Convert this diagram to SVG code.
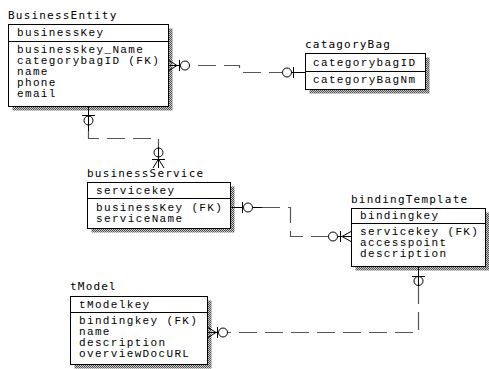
<svg xmlns="http://www.w3.org/2000/svg" width="489" height="369" viewBox="0 0 489 369">
<defs>
<pattern id="dither" width="2" height="2" patternUnits="userSpaceOnUse">
<rect width="2" height="2" fill="#c8c8c8"/>
<rect width="1" height="1" fill="#505050"/>
<rect x="1" y="1" width="1" height="1" fill="#505050"/>
</pattern>
</defs>
<style>
.box{fill:#fff;stroke:#000;stroke-width:1}
.sh{fill:url(#dither)}
.sep{stroke:#000;stroke-width:1}
.title{font-family:"DejaVu Sans Mono",monospace;font-size:11px;letter-spacing:1.2px;fill:#000}
.attr{font-family:"Liberation Mono","Courier New",monospace;font-size:11px;letter-spacing:1.35px;fill:#000}
.dash{fill:none;stroke:#555;stroke-width:1.2;stroke-dasharray:18 8}
.sol{fill:none;stroke:#000;stroke-width:1}
.circ{fill:#fff;stroke:#000;stroke-width:1}
</style>
<rect width="489" height="369" fill="#fff"/>

<g id="BusinessEntity">
<path class="sh" d="M168.5 28.5h4v82h-160v-4h156z"/>
<rect class="box" x="8.5" y="24.5" width="160" height="82"/>
<line class="sep" x1="8.5" y1="41.5" x2="168.5" y2="41.5"/>
<text class="title" x="8" y="19">BusinessEntity</text>
<text class="attr" x="17" y="36">businessKey</text>
<text class="attr" x="17" y="53">businesskey_Name</text>
<text class="attr" x="17" y="64">categorybagID (FK)</text>
<text class="attr" x="17" y="75">name</text>
<text class="attr" x="17" y="86">phone</text>
<text class="attr" x="17" y="97">email</text>
</g>

<g id="catagoryBag">
<path class="sh" d="M425.5 57.5h4v36h-120v-4h116z"/>
<rect class="box" x="305.5" y="53.5" width="120" height="36"/>
<line class="sep" x1="305.5" y1="71.5" x2="425.5" y2="71.5"/>
<text class="title" x="305" y="48">catagoryBag</text>
<text class="attr" x="313" y="66">categorybagID</text>
<text class="attr" x="313" y="83">categoryBagNm</text>
</g>

<g id="businessService">
<path class="sh" d="M230.5 186.5h4v46h-143v-4h139z"/>
<rect class="box" x="87.5" y="182.5" width="143" height="46"/>
<line class="sep" x1="87.5" y1="198.5" x2="230.5" y2="198.5"/>
<text class="title" x="87" y="177">businessService</text>
<text class="attr" x="96" y="194">servicekey</text>
<text class="attr" x="96" y="211">businessKey (FK)</text>
<text class="attr" x="96" y="222">serviceName</text>
</g>

<g id="bindingTemplate">
<path class="sh" d="M485.5 212.5h4v58h-134v-4h130z"/>
<rect class="box" x="351.5" y="208.5" width="134" height="58"/>
<line class="sep" x1="351.5" y1="223.5" x2="485.5" y2="223.5"/>
<text class="title" x="351" y="203">bindingTemplate</text>
<text class="attr" x="360" y="219">bindingkey</text>
<text class="attr" x="360" y="235">servicekey (FK)</text>
<text class="attr" x="360" y="246">accesspoint</text>
<text class="attr" x="360" y="257">description</text>
</g>

<g id="tModel">
<path class="sh" d="M207.5 300.5h4v68h-137v-4h133z"/>
<rect class="box" x="70.5" y="296.5" width="137" height="68"/>
<line class="sep" x1="70.5" y1="312.5" x2="207.5" y2="312.5"/>
<text class="title" x="70" y="290">tModel</text>
<text class="attr" x="79" y="308">tModelkey</text>
<text class="attr" x="79" y="324">bindingkey (FK)</text>
<text class="attr" x="79" y="335">name</text>
<text class="attr" x="79" y="346">description</text>
<text class="attr" x="79" y="357">overviewDocURL</text>
</g>

<g id="connectors">
<path class="dash" d="M198 65.5H239.5V72.5H282"/>
<path class="sol" d="M169 65.5H190M169 60.5L177 65.5L169 70.5M179.5 60V71"/>
<circle class="circ" cx="185" cy="65.5" r="4.5"/>
<path class="sol" d="M282 72.5H305M293.5 67V78"/>
<circle class="circ" cx="287" cy="72.5" r="4.5"/>

<path class="sol" d="M88.5 107V131M82 115.5H95"/>
<circle class="circ" cx="88.5" cy="120.5" r="4.5"/>
<line class="sol" x1="88.5" y1="116" x2="88.5" y2="125"/>
<path class="dash" d="M88.5 131V138.5H158.5V147"/>
<path class="sol" d="M158.5 147V168M152 159.5H165M153 168L158.5 159L164 168"/>
<circle class="circ" cx="158.5" cy="152.5" r="4.5"/>
<line class="sol" x1="158.5" y1="148" x2="158.5" y2="157"/>

<path class="sol" d="M231 207.5H262M242.5 202V213"/>
<circle class="circ" cx="248" cy="207.5" r="4.5"/>
<path class="dash" d="M262 207.5H290.5V236.5H328"/>
<path class="sol" d="M328 236.5H351M340.5 231V242M351 231.5L342 236.5L351 241.5"/>
<circle class="circ" cx="333" cy="236.5" r="4.5"/>

<path class="sol" d="M418.5 267V286M412 276.5H425"/>
<circle class="circ" cx="418.5" cy="281" r="4.5"/>
<line class="sol" x1="418.5" y1="276.5" x2="418.5" y2="286"/>
<path class="dash" d="M418.5 286V332.5H228"/>
<path class="sol" d="M228 332.5H208M217.5 327V338M208 327.5L216 332.5L208 337.5"/>
<circle class="circ" cx="223" cy="332.5" r="4.5"/>
</g>
</svg>
